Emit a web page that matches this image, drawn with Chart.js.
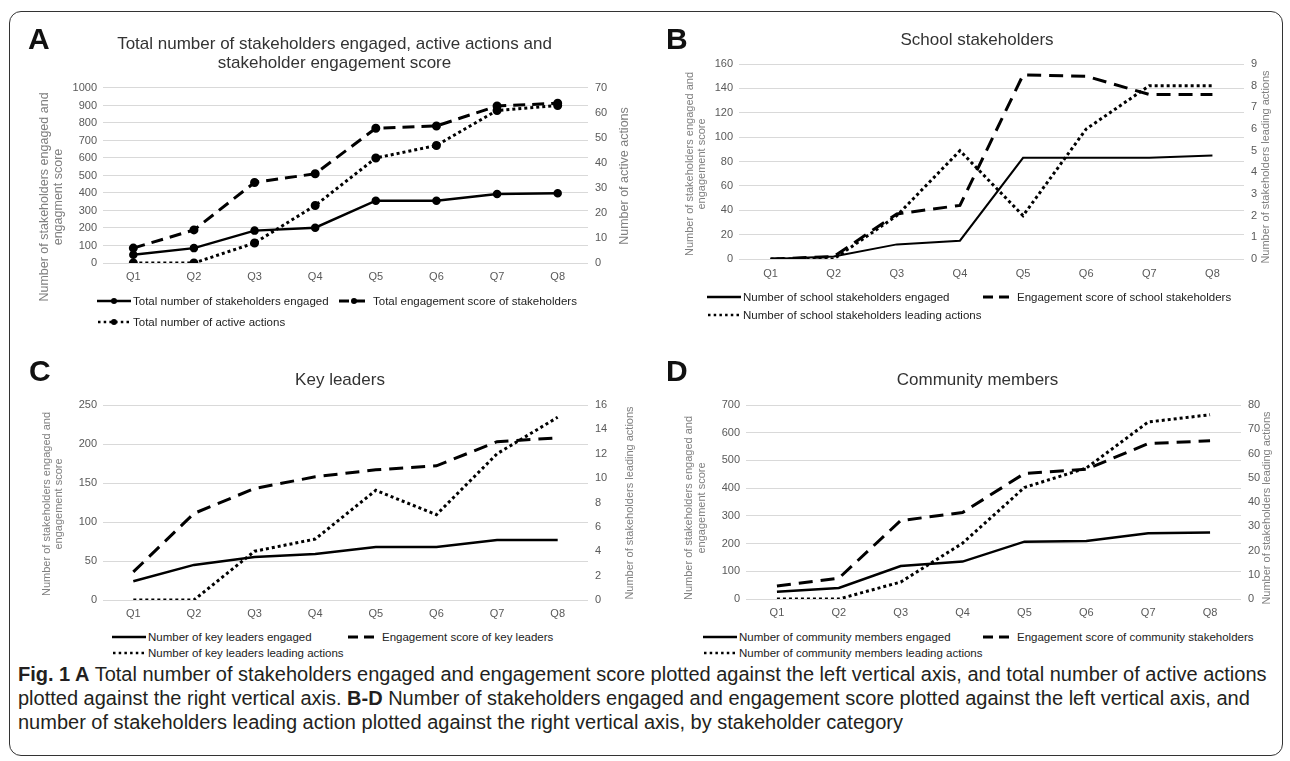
<!DOCTYPE html>
<html>
<head>
<meta charset="utf-8">
<script src="https://cdn.jsdelivr.net/npm/chart.js@4"></script>
<style>
  html, body { margin: 0; padding: 0; background: #fff; }
  body { width: 1290px; height: 761px; position: relative; overflow: hidden; font-family: "Liberation Sans", Arial, sans-serif; }
  .frame { position: absolute; left: 9px; top: 11px; width: 1274px; height: 745px; border: 1.5px solid #333; border-radius: 12px; box-sizing: border-box; }
  canvas { position: absolute; }
  .letter { position: absolute; font: bold 30px/1 "Liberation Sans", Arial, sans-serif; color: #111; }
  .lg { position: absolute; display: flex; align-items: center; font-size: 11.5px; color: #222; white-space: nowrap; height: 14px; }
  .lg svg { margin-right: 2px; }
  .caption { position: absolute; left: 18px; top: 662px; width: 1262px; font: 20px/24px "Liberation Sans", Arial, sans-serif; color: #231f20; }
  .caption b { font-weight: bold; }
</style>
</head>
<body>
<div class="frame"></div>

<canvas id="chartA" width="645" height="310" style="left:0;top:0"></canvas>
<canvas id="chartB" width="645" height="280" style="left:645px;top:0"></canvas>
<canvas id="chartC" width="645" height="295" style="left:0;top:330px"></canvas>
<canvas id="chartD" width="645" height="295" style="left:645px;top:330px"></canvas>

<div class="letter" style="left:28px;top:24px">A</div>
<div class="letter" style="left:666px;top:24px">B</div>
<div class="letter" style="left:29px;top:356px">C</div>
<div class="letter" style="left:666px;top:356px">D</div>

<div id="legends"></div>

<div class="caption"><b>Fig. 1 A</b> Total number of stakeholders engaged and engagement score plotted against the left vertical axis, and total number of active actions plotted against the right vertical axis. <b>B-D</b> Number of stakeholders engaged and engagement score plotted against the left vertical axis, and number of stakeholders leading action plotted against the right vertical axis, by stakeholder category</div>

<script>
// Trimestres
const quarters = ['Q1', 'Q2', 'Q3', 'Q4', 'Q5', 'Q6', 'Q7', 'Q8'];

// Painel A - totais
const totalEngaged = [47, 85, 185, 202, 356, 356, 394, 398];
const totalScore = [85, 189, 460, 510, 770, 783, 897, 913];
const totalActions = [0, 0, 8, 23, 42, 47, 61, 63];

// Painel B - escola
const schoolEngaged = [0, 2, 12, 15, 83, 83, 83, 85];
const schoolScore = [0, 2, 37, 44, 151, 150, 135, 135];
const schoolLeading = [0, 0, 2, 5, 2, 6, 8, 8];

// Painel C - líderes
const leadersEngaged = [24, 45, 55, 59, 68, 68, 77, 77];
const leadersScore = [36, 111, 143, 158, 167, 172, 203, 208];
const leadersLeading = [0, 0, 4, 5, 9, 7, 12, 15];

// Painel D - comunidade
const communityEngaged = [26, 40, 119, 135, 207, 209, 237, 240];
const communityScore = [47, 75, 283, 312, 453, 468, 561, 571];
const communityLeading = [0, 0, 7, 23, 46, 54, 73, 76];

// Eixos
const tickColor = '#595959';
const titleColor = '#7f7f7f';
const gridColor = '#d9d9d9';

function fixedWidth(w) { return scale => { scale.width = w; }; }
function fixedHeight(h) { return scale => { scale.height = h; }; }

// Títulos dos eixos no estilo Excel (os dois lados rodados para cima)
const axisTitlePlugin = {
  id: 'axisTitles',
  afterDraw(chart, args, opts) {
    const ctx = chart.ctx;
    (opts.items || []).forEach(t => {
      const lines = Array.isArray(t.text) ? t.text : [t.text];
      ctx.save();
      ctx.translate(t.x, t.y);
      ctx.rotate(-Math.PI / 2);
      ctx.fillStyle = titleColor;
      ctx.font = t.size + 'px "Liberation Sans", Arial, sans-serif';
      ctx.textAlign = 'center';
      ctx.textBaseline = 'middle';
      lines.forEach((line, i) => ctx.fillText(line, 0, i * t.lh));
      ctx.restore();
    });
  }
};

function makeChart(id, cfg) {
  const ctx = document.getElementById(id).getContext('2d');
  const markers = cfg.markers ? 3 : 0;
  const tickFont = { family: 'Liberation Sans', size: 11 };
  return new Chart(ctx, {
    type: 'line',
    data: {
      labels: quarters,
      datasets: [
        { label: cfg.labels[0], data: cfg.engaged, yAxisID: 'y', borderColor: '#000', backgroundColor: '#000',
          borderWidth: cfg.solidWidth, pointRadius: markers, pointBackgroundColor: '#000', tension: 0 },
        { label: cfg.labels[1], data: cfg.score, yAxisID: 'y', borderColor: '#000', backgroundColor: '#000',
          borderWidth: 3, borderDash: cfg.dash, pointRadius: markers, pointBackgroundColor: '#000', tension: 0 },
        { label: cfg.labels[2], data: cfg.leading, yAxisID: 'y1', borderColor: '#000', backgroundColor: '#000',
          borderWidth: 3, borderDash: [3, 3], pointRadius: markers, pointBackgroundColor: '#000', tension: 0 }
      ]
    },
    plugins: [axisTitlePlugin],
    options: {
      responsive: false,
      animation: false,
      devicePixelRatio: 1,
      layout: { padding: { left: cfg.padLeft, right: 0, top: 0, bottom: 0 } },
      plugins: {
        legend: { display: false },
        tooltip: { enabled: false },
        title: {
          display: true,
          text: cfg.title,
          color: '#333',
          font: { family: 'Liberation Sans', size: 17, weight: 'normal', lineHeight: 1.12 },
          padding: { top: cfg.titleTop, bottom: cfg.titleBottom }
        },
        axisTitles: { items: cfg.axisTitles }
      },
      scales: {
        x: {
          offset: true,
          grid: { display: false, drawTicks: false },
          border: { display: false },
          ticks: { color: tickColor, font: tickFont, padding: cfg.xPad, maxRotation: 0 },
          afterFit: fixedHeight(cfg.xHeight)
        },
        y: {
          position: 'left',
          min: 0, max: cfg.leftMax,
          ticks: { stepSize: cfg.leftStep, color: tickColor, font: tickFont, padding: 6, callback: v => v },
          grid: { color: gridColor, drawTicks: false },
          border: { display: false },
          afterFit: fixedWidth(cfg.leftWidth)
        },
        y1: {
          position: 'right',
          min: 0, max: cfg.rightMax,
          ticks: { stepSize: cfg.rightStep, color: tickColor, font: tickFont, padding: 7, callback: v => v },
          grid: { display: false, drawTicks: false },
          border: { display: false },
          afterFit: fixedWidth(cfg.rightWidth)
        }
      }
    }
  });
}

const leftTitleB = ['Number of stakeholders engaged and', 'engagement score'];
const rightTitleB = 'Number of stakeholders leading actions';

makeChart('chartA', {
  engaged: totalEngaged, score: totalScore, leading: totalActions,
  labels: ['Total number of stakeholders engaged', 'Total engagement score of stakeholders', 'Total number of active actions'],
  title: ['Total number of stakeholders engaged, active actions and', 'stakeholder engagement score'],
  markers: true, solidWidth: 2.5, dash: [12, 7],
  padLeft: 24, titleTop: 34.5, titleBottom: 15.4, xHeight: 47, xPad: 7.4,
  leftMax: 1000, leftStep: 100, rightMax: 70, rightStep: 10,
  axisTitles: [
    { text: ['Number of stakeholders engaged and', 'engagment score'], x: 45, y: 197, size: 12.5, lh: 14 },
    { text: 'Number of active actions', x: 625, y: 176, size: 12.5, lh: 14 }
  ],
  leftWidth: 79, rightWidth: 57
});

makeChart('chartB', {
  engaged: schoolEngaged, score: schoolScore, leading: schoolLeading,
  labels: ['Number of school stakeholders engaged', 'Engagement score of school stakeholders', 'Number of school stakeholders leading actions'],
  title: 'School stakeholders',
  markers: false, solidWidth: 2, dash: [14, 8],
  padLeft: 19, titleTop: 30.5, titleBottom: 14.5, xHeight: 21, xPad: 8.4,
  leftMax: 160, leftStep: 20, rightMax: 9, rightStep: 1,
  axisTitles: [
    { text: leftTitleB, x: 45, y: 164, size: 11, lh: 12 },
    { text: rightTitleB, x: 621, y: 167, size: 11, lh: 12 }
  ],
  leftWidth: 75, rightWidth: 46
});

makeChart('chartC', {
  engaged: leadersEngaged, score: leadersScore, leading: leadersLeading,
  labels: ['Number of key leaders engaged', 'Engagement score of key leaders', 'Number of key leaders leading actions'],
  title: 'Key leaders',
  markers: false, solidWidth: 2.5, dash: [14, 8],
  padLeft: 35, titleTop: 40.5, titleBottom: 15.5, xHeight: 25, xPad: 7.4,
  leftMax: 250, leftStep: 50, rightMax: 16, rightStep: 2,
  axisTitles: [
    { text: leftTitleB, x: 47, y: 174, size: 11, lh: 12 },
    { text: rightTitleB, x: 630, y: 173, size: 11, lh: 12 }
  ],
  leftWidth: 68, rightWidth: 57
});

makeChart('chartD', {
  engaged: communityEngaged, score: communityScore, leading: communityLeading,
  labels: ['Number of community members engaged', 'Engagement score of community stakeholders', 'Number of community members leading actions'],
  title: 'Community members',
  markers: false, solidWidth: 2.5, dash: [14, 8],
  padLeft: 20, titleTop: 40.5, titleBottom: 15.5, xHeight: 26, xPad: 7.4,
  leftMax: 700, leftStep: 100, rightMax: 80, rightStep: 10,
  axisTitles: [
    { text: leftTitleB, x: 44, y: 178, size: 11, lh: 13 },
    { text: rightTitleB, x: 622, y: 178, size: 11, lh: 12 }
  ],
  leftWidth: 81, rightWidth: 49
});

// Legendas em HTML (estilo Excel)
function sample(kind, marker) {
  let line = '';
  if (kind === 'solid') line = '<line x1="0" y1="5" x2="34" y2="5" stroke="#000" stroke-width="2.5"/>';
  if (kind === 'dash') line = '<line x1="2" y1="5" x2="34" y2="5" stroke="#000" stroke-width="3" stroke-dasharray="10 6"/>';
  if (kind === 'dot') line = '<line x1="1" y1="5" x2="34" y2="5" stroke="#000" stroke-width="2.5" stroke-dasharray="2.5 3.2"/>';
  const dot = marker ? '<circle cx="17" cy="5" r="3" fill="#000"/>' : '';
  return '<svg width="34" height="10">' + line + dot + '</svg>';
}

const legendItems = [
  // [x, y, tipo, marcador, texto]
  [97, 301, 'solid', true, 'Total number of stakeholders engaged'],
  [337, 301, 'dash', true, 'Total engagement score of stakeholders'],
  [97, 322, 'dot', true, 'Total number of active actions'],
  [707, 297, 'solid', false, 'Number of school stakeholders engaged'],
  [981, 297, 'dash', false, 'Engagement score of school stakeholders'],
  [707, 315, 'dot', false, 'Number of school stakeholders leading actions'],
  [112, 637, 'solid', false, 'Number of key leaders engaged'],
  [346, 637, 'dash', false, 'Engagement score of key leaders'],
  [112, 653, 'dot', false, 'Number of key leaders leading actions'],
  [703, 637, 'solid', false, 'Number of community members engaged'],
  [981, 637, 'dash', false, 'Engagement score of community stakeholders'],
  [703, 653, 'dot', false, 'Number of community members leading actions']
];

const legendBox = document.getElementById('legends');
legendItems.forEach(item => {
  const div = document.createElement('div');
  div.className = 'lg';
  div.style.left = item[0] + 'px';
  div.style.top = (item[1] - 7) + 'px';
  div.innerHTML = sample(item[2], item[3]) + '<span>' + item[4] + '</span>';
  legendBox.appendChild(div);
});
</script>
</body>
</html>
